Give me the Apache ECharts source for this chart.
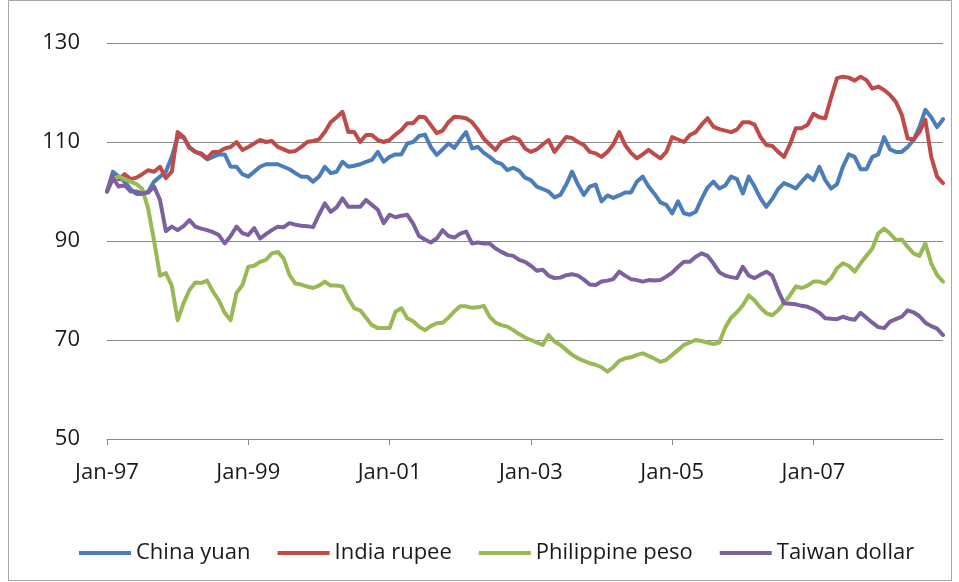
<!DOCTYPE html>
<html>
<head>
<meta charset="utf-8">
<script src="https://cdn.jsdelivr.net/npm/echarts@6/dist/echarts.min.js"></script>
<style>
  html, body { margin: 0; padding: 0; background: #fff; }
  #chart { width: 959px; height: 582px; }
</style>
</head>
<body>
<div id="chart"></div>
<script>
// monthly index values, Jan-97 .. Nov-08 (Jan-97 = 100)
const monthNames = ["Jan", "Feb", "Mar", "Apr", "May", "Jun", "Jul", "Aug", "Sep", "Oct", "Nov", "Dec"];
const startYear = 1997;
const monthCount = 143;
const categories = [];
for (let i = 0; i < monthCount; i++) {
  const yr = (startYear + Math.floor(i / 12)) % 100;
  categories.push(monthNames[i % 12] + "-" + String(yr).padStart(2, "0"));
}

const seriesNames = ["China yuan", "India rupee", "Philippine peso", "Taiwan dollar"];

const chinaYuan = [
  100, 104, 103, 102, 100.5, 99.5, 99.5, 100, 102, 103, 104, 107,
  111, 111, 109, 108, 107.5, 106.5, 107, 107.5, 107.5, 105, 105, 103.5,
  103, 104, 105, 105.5, 105.5, 105.5, 105, 104.5, 103.7, 103, 103, 102,
  103, 105, 103.7, 104, 106, 105, 105.2, 105.5, 106, 106.4, 108, 106,
  107, 107.5, 107.5, 109.7, 110, 111.2, 111.5, 109, 107.4, 108.5, 109.7, 108.8,
  110.5, 112, 108.7, 109, 107.8, 107, 106, 105.6, 104.3, 104.8, 104.2, 102.8,
  102.3, 101, 100.5, 100, 98.8, 99.3, 101.4, 104, 101.4, 99.3, 101, 101.4,
  98, 99.2, 98.7, 99.2, 99.8, 99.8, 102, 103, 101, 99.5, 97.8, 97.3,
  95.6, 98, 95.6, 95.3, 95.9, 98.5, 100.8, 102, 100.6, 101.2, 103, 102.5,
  99.6, 103, 101, 98.6, 96.9, 98.5, 100.5, 101.7, 101.2, 100.6, 102, 103.3,
  102.3, 105, 102.3, 100.6, 101.5, 105, 107.5, 107, 104.5, 104.5, 107, 107.5,
  111, 108.5, 108, 108, 109, 110.4, 113, 116.5, 115, 113, 114.6
];

const indiaRupee = [
  100, 103, 102.5, 103.5, 102.5, 102.8, 103.5, 104.3, 104, 105, 102.7, 104,
  112, 111, 108.8, 108, 107.7, 106.7, 108, 108, 108.7, 109, 110, 108.4,
  109, 109.7, 110.4, 110, 110.2, 109, 108.5, 108, 108.2, 109, 110, 110.2,
  110.5, 112, 114, 115, 116.1, 112, 112, 110, 111.4, 111.4, 110.4, 110,
  110.4, 111.5, 112.4, 113.8, 113.8, 115.1, 115, 113.4, 111.8, 112.3, 114, 115.1,
  115, 114.8, 114, 112.5, 110.7, 109.5, 108.4, 110, 110.5, 111, 110.5, 108.7,
  108, 108.5, 109.5, 110.4, 108, 109.5, 111, 110.8, 110, 109.4, 108, 107.7,
  107, 108, 109.5, 112, 109.4, 107.8, 106.7, 107.5, 108.4, 107.5, 106.7, 108,
  111, 110.5, 110, 111.4, 112, 113.5, 114.8, 113.1, 112.6, 112.3, 112, 112.5,
  114, 114, 113.5, 111, 109.4, 109.2, 108, 107, 109.5, 112.8, 112.8, 113.5,
  115.7, 115, 114.8, 119, 122.9, 123.2, 123, 122.4, 123.2, 122.5, 120.8, 121.2,
  120.5, 119.5, 118.1, 115.5, 110.7, 110.5, 112, 114.5, 107, 103, 101.7
];

const philippinePeso = [
  100, 102.5, 103, 102.5, 102, 101.5, 100.5, 96.5, 90, 83, 83.5, 81,
  74, 77.4, 80.1, 81.6, 81.5, 82, 79.8, 78, 75.5, 74, 79.5, 81.1,
  84.8, 85, 85.8, 86.2, 87.5, 87.8, 86.5, 83.1, 81.4, 81.2, 80.8, 80.5,
  81, 81.8, 81, 81, 80.8, 78.4, 76.4, 76, 74.5, 73, 72.4, 72.4,
  72.4, 75.7, 76.4, 74.4, 73.8, 72.7, 72, 72.8, 73.4, 73.5, 74.5, 75.8,
  76.8, 76.8, 76.5, 76.6, 76.9, 74.7, 73.5, 73, 72.7, 72, 71.2, 70.5,
  70, 69.5, 69, 71, 69.7, 69, 68, 67, 66.3, 65.8, 65.3, 65,
  64.5, 63.6, 64.5, 65.8, 66.3, 66.5, 67, 67.3, 66.8, 66.2, 65.6, 66,
  67, 68, 69, 69.5, 70, 69.8, 69.5, 69.2, 69.5, 72.5, 74.5, 75.6,
  77, 79, 78, 76.5, 75.4, 75, 76, 77.5, 79, 80.8, 80.5, 81,
  81.8, 81.8, 81.4, 82.5, 84.5, 85.5, 85, 83.8, 85.5, 87, 88.5, 91.5,
  92.5, 91.5, 90.2, 90.3, 88.8, 87.5, 87, 89.5, 85.5, 83.1, 81.8
];

const taiwanDollar = [
  100, 102.7, 101, 101.3, 100, 100, 99.6, 99.8, 101, 98.3, 92, 92.9,
  92.2, 93, 94.2, 92.9, 92.5, 92.2, 91.8, 91.2, 89.5, 91, 92.9, 91.6,
  91.2, 92.6, 90.5, 91.4, 92.2, 92.9, 92.8, 93.6, 93.3, 93.1, 93, 92.8,
  95.3, 97.6, 95.9, 96.8, 98.6, 96.9, 96.9, 96.9, 98.3, 97.3, 96.3, 93.6,
  95.3, 94.8, 95.1, 95.3, 93.5, 91, 90.3, 89.7, 90.5, 92.2, 91, 90.7,
  91.5, 91.9, 89.5, 89.7, 89.5, 89.5, 88.5, 87.8, 87.2, 87, 86.2, 85.8,
  85, 84, 84.2, 83, 82.5, 82.6, 83.1, 83.3, 83, 82.2, 81.2, 81.1,
  81.8, 82, 82.3, 83.8, 83, 82.3, 82.1, 81.8, 82.1, 82, 82.1, 82.8,
  83.6, 84.8, 85.8, 85.8, 86.8, 87.5, 87, 85.5, 83.7, 83, 82.7, 82.5,
  84.8, 83, 82.5, 83.2, 83.8, 83, 80, 77.4, 77.3, 77.2, 76.9, 76.7,
  76.2, 75.5, 74.4, 74.3, 74.2, 74.7, 74.3, 74.1, 75.5, 74.5, 73.5, 72.6,
  72.4, 73.7, 74.2, 74.7, 76, 75.6, 74.8, 73.5, 72.8, 72.3, 71
];

const colors = ["#4a7ebb", "#be4b48", "#98b954", "#7d60a0"];
const fontFamily = "'Open Sans', 'Liberation Sans', sans-serif";
const gridGray = "#878787";

const chart = echarts.init(document.getElementById("chart"), null, { renderer: "canvas" });

const makeLine = (name, data, color) => ({
  name: name,
  type: "line",
  data: data,
  showSymbol: false,
  symbol: "none",
  smooth: false,
  animation: false,
  lineStyle: { color: color, width: 4, join: "round", cap: "round" },
  itemStyle: { color: color },
  emphasis: { disabled: true },
});

const option = {
  backgroundColor: "#fff",
  animation: false,
  color: colors,
  grid: { left: 107, right: 16, top: 43, bottom: 143 },
  legend: {
    data: seriesNames,
    left: 74,
    top: 537,
    icon: "rect",
    itemWidth: 52,
    itemHeight: 4,
    itemGap: 27,
    textStyle: { fontFamily: fontFamily, fontSize: 22, color: "#1a1a1a" },
  },
  xAxis: {
    type: "category",
    data: categories,
    boundaryGap: false,
    axisLine: { show: true, lineStyle: { color: gridGray, width: 1 } },
    axisTick: { show: true, interval: 23, length: 6, lineStyle: { color: gridGray } },
    axisLabel: {
      interval: 23,
      margin: 23,
      fontFamily: fontFamily,
      fontSize: 22,
      color: "#1a1a1a",
    },
    splitLine: { show: false },
  },
  yAxis: {
    type: "value",
    min: 50,
    max: 130,
    interval: 20,
    axisLine: { show: false },
    axisTick: { show: false },
    axisLabel: { margin: 27, fontFamily: fontFamily, fontSize: 22, color: "#1a1a1a" },
    splitLine: { show: true, lineStyle: { color: gridGray, width: 1 } },
  },
  graphic: [
    {
      type: "rect",
      silent: true,
      shape: { x: 8.5, y: 0.5, width: 943, height: 580 },
      style: { fill: "none", stroke: "#a6a6a6", lineWidth: 1 },
    },
  ],
  series: [
    makeLine(seriesNames[0], chinaYuan, colors[0]),
    makeLine(seriesNames[1], indiaRupee, colors[1]),
    makeLine(seriesNames[2], philippinePeso, colors[2]),
    makeLine(seriesNames[3], taiwanDollar, colors[3]),
  ],
};

chart.setOption(option);
window.addEventListener("resize", () => chart.resize());
</script>
</body>
</html>
